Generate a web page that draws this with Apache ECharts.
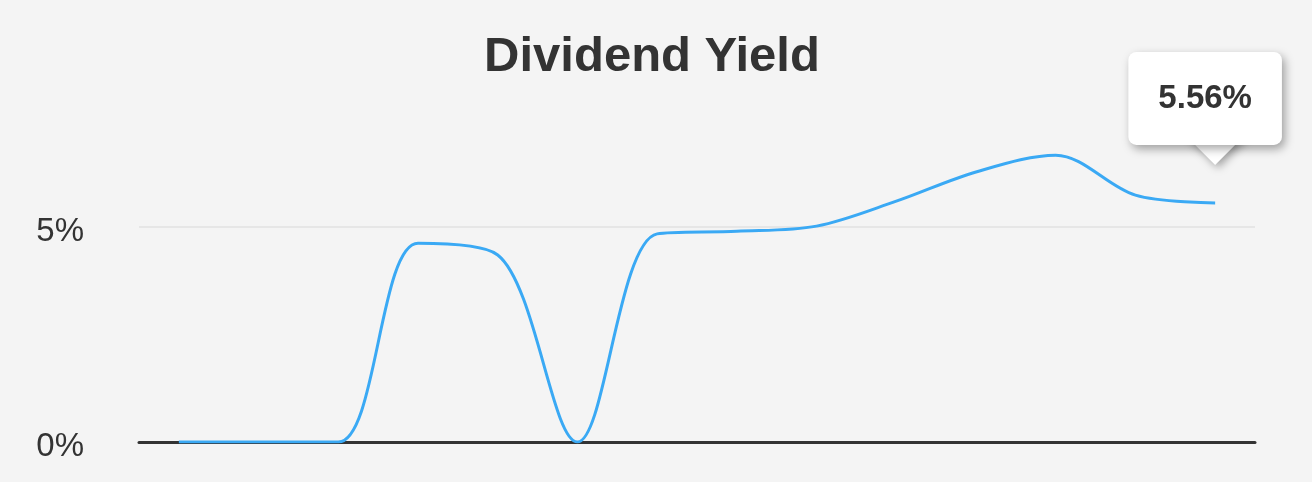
<!DOCTYPE html>
<html>
<head>
<meta charset="utf-8">
<script src="https://cdn.jsdelivr.net/npm/echarts@6/dist/echarts.min.js"></script>
<style>
  html, body { margin: 0; padding: 0; background: #f4f4f4; }
  #chart { width: 1312px; height: 482px; }
</style>
</head>
<body>
<div id="chart"></div>
<script>
// periods on the x axis (labels are not shown in the chart)
const periods = ['P1', 'P2', 'P3', 'P4', 'P5', 'P6', 'P7', 'P8', 'P9', 'P10', 'P11', 'P12', 'P13', 'P14']
// dividend yield, percent
const yieldValues = [0, 0, 0, 4.62, 4.35, 0, 4.84, 4.9, 5.02, 5.6, 6.28, 6.67, 5.74, 5.56]
const yTicks = [0, 5]

const chart = echarts.init(document.getElementById('chart'))
const font = '"Liberation Sans", Arial, Helvetica, sans-serif'
const lastIdx = yieldValues.length - 1

const option = {
  backgroundColor: '#f4f4f4',
  animation: false,
  title: {
    text: 'Dividend Yield',
    left: 647,
    textAlign: 'center',
    top: 28,
    textStyle: { fontFamily: font, fontSize: 49, fontWeight: 'bold', color: '#333' }
  },
  grid: { left: 139, right: 57, top: 12, bottom: 40 },
  xAxis: {
    type: 'category',
    data: periods,
    boundaryGap: true,
    axisLine: { lineStyle: { color: '#333', width: 3 } },
    axisTick: { show: false },
    axisLabel: { show: false }
  },
  yAxis: {
    type: 'value',
    min: 0,
    max: 10,
    interval: yTicks[1] - yTicks[0],
    axisLine: { show: false },
    axisTick: { show: false },
    axisLabel: {
      showMaxLabel: false,
      margin: 55,
      verticalAlign: 'top',
      lineHeight: 10,
      fontFamily: font,
      fontSize: 33,
      color: '#333',
      formatter: v => v + '%'
    },
    splitLine: { showMaxLine: false, showMinLine: false, lineStyle: { color: '#e6e6e6', width: 2 } }
  },
  series: [{
    type: 'line',
    data: yieldValues,
    smooth: 0.33,
    showSymbol: false,
    lineStyle: { color: '#3aa9f4', width: 3 },
    markPoint: {
      symbol: 'triangle',
      symbolRotate: 180,
      symbolSize: [60, 30],
      symbolOffset: [0, -53],
      itemStyle: { color: '#fff', shadowBlur: 8, shadowColor: 'rgba(0,0,0,0.35)', shadowOffsetY: 3, shadowOffsetX: 3 },
      label: {
        show: true,
        position: 'top',
        distance: -10,
        offset: [-10, 0],
        formatter: p => p.value.toFixed(2) + '%',
        backgroundColor: '#fff',
        borderRadius: 8,
        padding: [30, 30, 30, 30],
        fontFamily: font,
        fontSize: 33,
        lineHeight: 33,
        fontWeight: 'bold',
        color: '#333',
        shadowBlur: 10,
        shadowColor: 'rgba(0,0,0,0.35)',
        shadowOffsetY: 4,
        shadowOffsetX: 3
      },
      data: [{ coord: [lastIdx, yieldValues[lastIdx]], value: yieldValues[lastIdx] }]
    }
  }]
}

chart.setOption(option)
window.addEventListener('resize', () => chart.resize())
</script>
</body>
</html>
